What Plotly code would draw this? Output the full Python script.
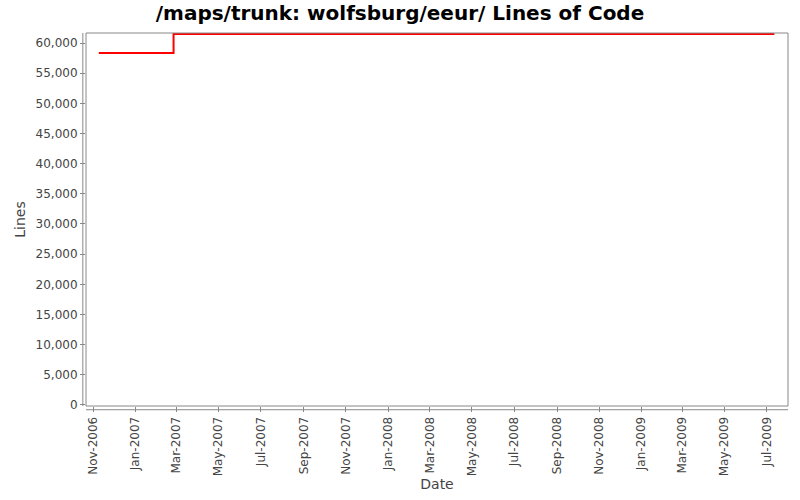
import plotly.graph_objects as go

# lines of code over time (step chart)
dates = ["2006-11-09", "2007-02-25", "2009-07-12"]
lines = [58340, 61500, 61500]

x_range = ["2006-10-21 12:00", "2009-07-31 18:00"]
y_range = [-170, 61660]

fig = go.Figure()
fig.add_trace(go.Scatter(
    x=dates, y=lines, mode="lines", line_shape="hv",
    line=dict(color="#ff0000", width=2), showlegend=False,
))

tick_font = dict(family="DejaVu Sans", size=12, color="#444444")

fig.update_layout(
    width=800, height=500,
    margin=dict(l=86, r=12, t=33, b=94),
    paper_bgcolor="white", plot_bgcolor="white",
    title=dict(text="<b>/maps/trunk: wolfsburg/eeur/ Lines of Code</b>",
               x=0.5, xanchor="center", y=0.974, yanchor="middle",
               font=dict(family="DejaVu Sans", size=20, color="black")),
    xaxis=dict(
        range=x_range, type="date", tick0="2006-11-01", dtick="M2",
        tickformat="%b-%Y", tickangle=-90, showgrid=False, zeroline=False,
        ticks="outside", ticklen=5, tickcolor="#888888", tickfont=tick_font,
        automargin=False,
        title=dict(text="Date", font=dict(family="DejaVu Sans", size=14, color="#444444"),
                   standoff=3),
    ),
    yaxis=dict(
        range=y_range, tickmode="linear", tick0=0, dtick=5000,
        tickformat=",d", showgrid=False, zeroline=False,
        ticks="outside", ticklen=5, tickcolor="#888888", tickfont=tick_font,
        automargin=False,
        title=dict(text="Lines", font=dict(family="DejaVu Sans", size=14, color="#444444"),
                   standoff=6),
    ),
)

# plot border and offset axis lines
fig.add_shape(type="rect", xref="paper", yref="paper", x0=0, x1=1, y0=0, y1=1,
              line=dict(color="#888888", width=1))
fig.add_shape(type="line", xref="paper", yref="paper", x0=-0.0045, x1=-0.0045, y0=0, y1=1,
              line=dict(color="#888888", width=1))
fig.add_shape(type="line", xref="paper", yref="paper", x0=0, x1=1, y0=-0.01, y1=-0.01,
              line=dict(color="#888888", width=1))

# page body has a default 8px margin, drop it so the chart sits at 0,0
fig.write_html("out.html", config={"displayModeBar": False},
               post_script="document.body.style.margin='0px';")
